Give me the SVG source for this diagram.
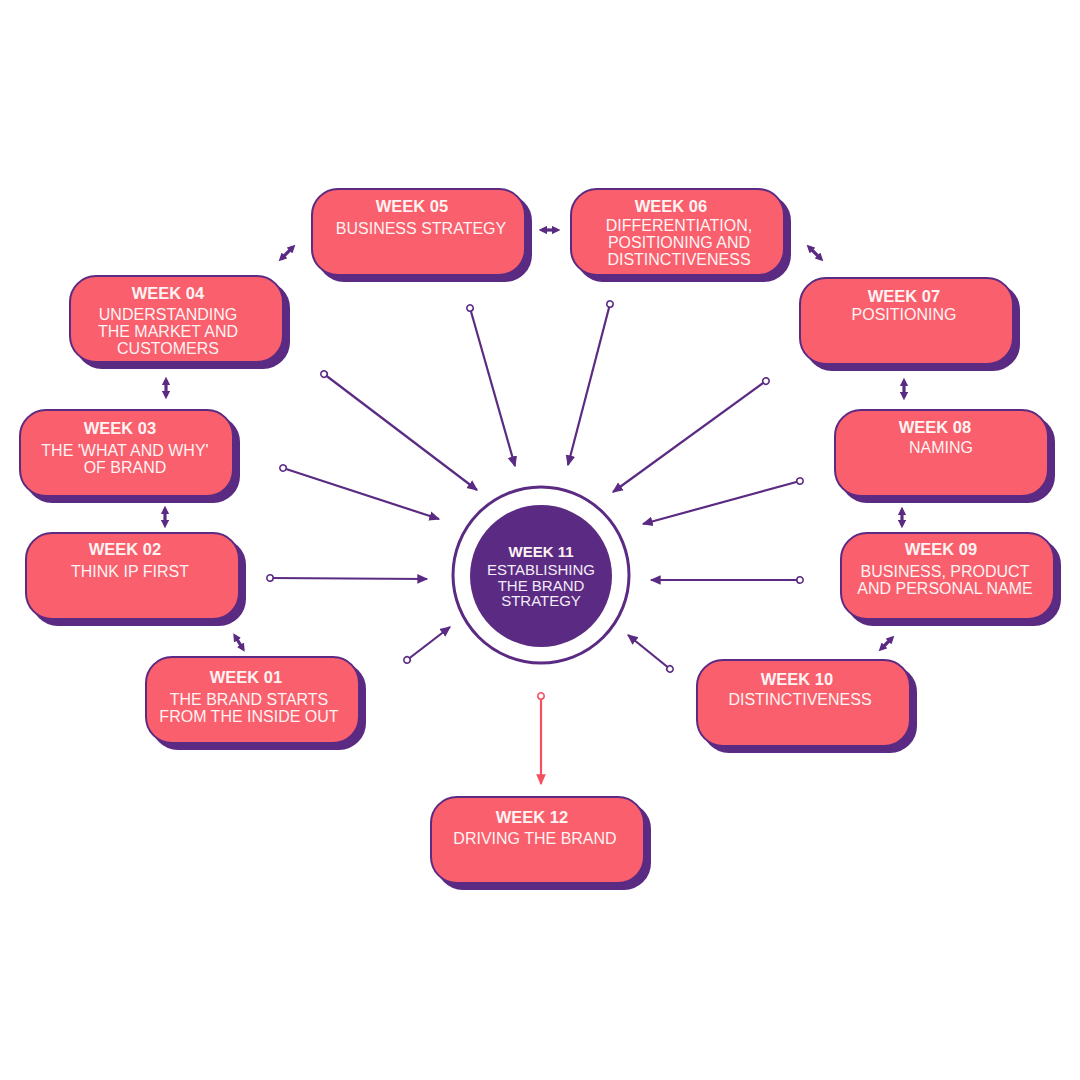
<svg xmlns="http://www.w3.org/2000/svg" width="1080" height="1080" viewBox="0 0 1080 1080">
<defs>
<style>
.shadow{fill:#5B2A82;stroke:#5B2A82;stroke-width:2}
.box{fill:#F95F6C;stroke:#5B2A82;stroke-width:2}
.hd{font-family:"Liberation Sans","Noto Sans",sans-serif;font-weight:bold;font-size:16.5px;fill:#FFF3F3;text-anchor:middle}
.bd{font-family:"Liberation Sans","Noto Sans",sans-serif;font-size:16px;fill:#FFF3F3;text-anchor:middle}
.ct{font-family:"Liberation Sans","Noto Sans",sans-serif;font-size:15px;fill:#F4ECF8;text-anchor:middle}
.conn{stroke:#5B2A82;stroke-width:2.2;fill:none;marker-start:url(#dot);marker-end:url(#arr)}
.red{stroke:#F5505F;stroke-width:2.2;fill:none;marker-start:url(#dotr);marker-end:url(#arrr)}
.dbl{stroke:#5B2A82;stroke-width:3.2;fill:none;marker-start:url(#h2);marker-end:url(#h2)}
</style>
<marker id="arr" viewBox="0 0 10 10" refX="8" refY="5" markerWidth="5.5" markerHeight="5.5" orient="auto" markerUnits="strokeWidth"><path d="M0,1 L9,5 L0,9 Z" fill="#5B2A82"/></marker>
<marker id="dot" viewBox="0 0 10 10" refX="5" refY="5" markerWidth="4" markerHeight="4" orient="auto" markerUnits="strokeWidth"><circle cx="5" cy="5" r="3.6" fill="#fff" stroke="#5B2A82" stroke-width="1.8"/></marker>
<marker id="arrr" viewBox="0 0 10 10" refX="8" refY="5" markerWidth="5.5" markerHeight="5.5" orient="auto" markerUnits="strokeWidth"><path d="M0,1 L9,5 L0,9 Z" fill="#F5505F"/></marker>
<marker id="dotr" viewBox="0 0 10 10" refX="5" refY="5" markerWidth="4" markerHeight="4" orient="auto" markerUnits="strokeWidth"><circle cx="5" cy="5" r="3.6" fill="#fff" stroke="#F5505F" stroke-width="1.8"/></marker>
<marker id="h2" viewBox="0 0 10 10" refX="6" refY="5" markerWidth="2.6" markerHeight="2.6" orient="auto-start-reverse" markerUnits="strokeWidth"><path d="M0,0 L10,5 L0,10 Z" fill="#5B2A82"/></marker>
</defs>
<rect width="1080" height="1080" fill="#fff"/>

<g id="connectors">
<line class="conn" x1="324" y1="374" x2="477" y2="490"/>
<line class="conn" x1="470" y1="308" x2="515" y2="466"/>
<line class="conn" x1="610" y1="304" x2="568" y2="465"/>
<line class="conn" x1="766" y1="381" x2="613" y2="492"/>
<line class="conn" x1="283" y1="468" x2="439" y2="519"/>
<line class="conn" x1="800" y1="481" x2="643" y2="524"/>
<line class="conn" x1="270" y1="578" x2="427" y2="579"/>
<line class="conn" x1="800" y1="580" x2="651" y2="580"/>
<line class="conn" x1="407" y1="660" x2="450" y2="627"/>
<line class="conn" x1="670" y1="669" x2="628" y2="635"/>
<line class="red" x1="541" y1="696" x2="541" y2="784"/>
<line class="dbl" x1="281" y1="259" x2="293" y2="247"/>
<line class="dbl" x1="542" y1="230" x2="557" y2="230"/>
<line class="dbl" x1="809" y1="247" x2="821" y2="259"/>
<line class="dbl" x1="166" y1="380" x2="166" y2="396"/>
<line class="dbl" x1="904" y1="381" x2="904" y2="397"/>
<line class="dbl" x1="165" y1="509" x2="165" y2="525"/>
<line class="dbl" x1="902" y1="510" x2="902" y2="525"/>
<line class="dbl" x1="235" y1="636" x2="243" y2="649"/>
<line class="dbl" x1="881" y1="649" x2="892" y2="638"/>
</g>

<g id="week11">
<circle cx="541" cy="575" r="88" fill="#fff" stroke="#5B2A82" stroke-width="3"/>
<circle cx="541" cy="576" r="71" fill="#5B2A82"/>
<text class="hd" x="541" y="557" style="font-size:15px">WEEK 11</text>
<text class="ct" x="541" y="575">ESTABLISHING</text>
<text class="ct" x="541" y="591">THE BRAND</text>
<text class="ct" x="541" y="606">STRATEGY</text>
</g>

<g id="week05">
<rect class="shadow" x="318" y="195" width="213" height="86" rx="26"/>
<rect class="box" x="312" y="189" width="213" height="86" rx="26"/>
<text class="hd" x="412" y="212">WEEK 05</text>
<text class="bd" x="421" y="234">BUSINESS STRATEGY</text>
</g>
<g id="week06">
<rect class="shadow" x="577" y="195" width="213" height="86" rx="26"/>
<rect class="box" x="571" y="189" width="213" height="86" rx="26"/>
<text class="hd" x="671" y="212">WEEK 06</text>
<text class="bd" x="679" y="231">DIFFERENTIATION,</text>
<text class="bd" x="679" y="248">POSITIONING AND</text>
<text class="bd" x="679" y="265">DISTINCTIVENESS</text>
</g>
<g id="week04">
<rect class="shadow" x="76" y="282" width="213" height="86" rx="26"/>
<rect class="box" x="70" y="276" width="213" height="86" rx="26"/>
<text class="hd" x="168" y="299">WEEK 04</text>
<text class="bd" x="168" y="320">UNDERSTANDING</text>
<text class="bd" x="168" y="337">THE MARKET AND</text>
<text class="bd" x="168" y="354">CUSTOMERS</text>
</g>
<g id="week07">
<rect class="shadow" x="806" y="284" width="213" height="86" rx="26"/>
<rect class="box" x="800" y="278" width="213" height="86" rx="26"/>
<text class="hd" x="904" y="302">WEEK 07</text>
<text class="bd" x="904" y="320">POSITIONING</text>
</g>
<g id="week03">
<rect class="shadow" x="26" y="416" width="213" height="86" rx="26"/>
<rect class="box" x="20" y="410" width="213" height="86" rx="26"/>
<text class="hd" x="120" y="434">WEEK 03</text>
<text class="bd" x="125" y="456">THE 'WHAT AND WHY'</text>
<text class="bd" x="125" y="473">OF BRAND</text>
</g>
<g id="week08">
<rect class="shadow" x="841" y="416" width="213" height="86" rx="26"/>
<rect class="box" x="835" y="410" width="213" height="86" rx="26"/>
<text class="hd" x="935" y="433">WEEK 08</text>
<text class="bd" x="941" y="453">NAMING</text>
</g>
<g id="week02">
<rect class="shadow" x="32" y="539" width="213" height="86" rx="26"/>
<rect class="box" x="26" y="533" width="213" height="86" rx="26"/>
<text class="hd" x="125" y="555">WEEK 02</text>
<text class="bd" x="130" y="577">THINK IP FIRST</text>
</g>
<g id="week09">
<rect class="shadow" x="847" y="539" width="213" height="86" rx="26"/>
<rect class="box" x="841" y="533" width="213" height="86" rx="26"/>
<text class="hd" x="941" y="555">WEEK 09</text>
<text class="bd" x="945" y="577">BUSINESS, PRODUCT</text>
<text class="bd" x="945" y="594">AND PERSONAL NAME</text>
</g>
<g id="week01">
<rect class="shadow" x="152" y="663" width="213" height="86" rx="26"/>
<rect class="box" x="146" y="657" width="213" height="86" rx="26"/>
<text class="hd" x="246" y="683">WEEK 01</text>
<text class="bd" x="249" y="705">THE BRAND STARTS</text>
<text class="bd" x="249" y="722">FROM THE INSIDE OUT</text>
</g>
<g id="week10">
<rect class="shadow" x="703" y="666" width="213" height="86" rx="26"/>
<rect class="box" x="697" y="660" width="213" height="86" rx="26"/>
<text class="hd" x="797" y="685">WEEK 10</text>
<text class="bd" x="800" y="705">DISTINCTIVENESS</text>
</g>
<g id="week12">
<rect class="shadow" x="437" y="803" width="213" height="86" rx="26"/>
<rect class="box" x="431" y="797" width="213" height="86" rx="26"/>
<text class="hd" x="532" y="823">WEEK 12</text>
<text class="bd" x="535" y="844">DRIVING THE BRAND</text>
</g>
</svg>
